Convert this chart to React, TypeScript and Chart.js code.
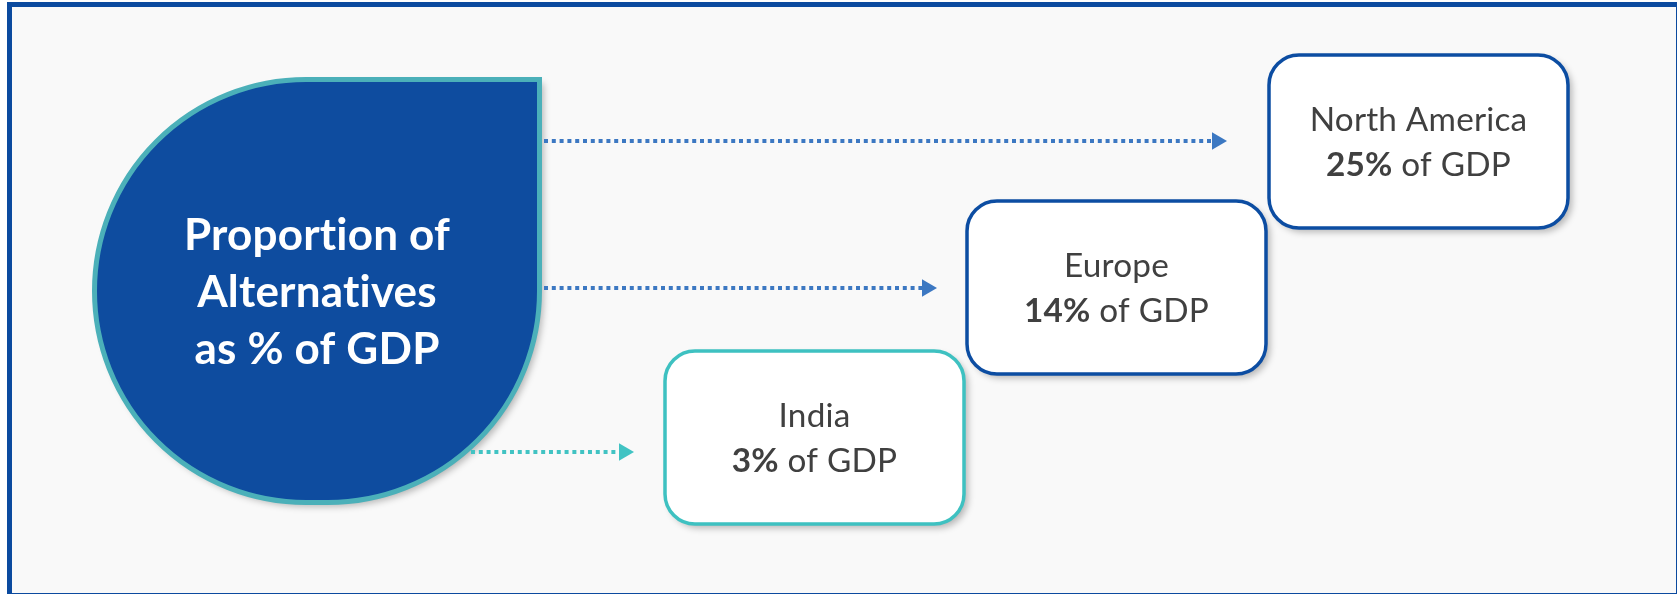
import React, { useEffect, useRef } from "react";
import { Chart, registerables } from "chart.js";

Chart.register(...registerables);

// ---------- data ----------
const regions = ["North America", "Europe", "India"];
const sharesOfGDP = [25, 14, 3];
const headlineLines = ["Proportion of", "Alternatives", "as % of GDP"];
const shareSuffix = " of GDP";

// ---------- layout (canvas units) ----------
const W = 1677;
const H = 594;
const boxLeft = [1267, 965, 663];
const boxTop = [53, 199, 349];
const boxW = 303;
const boxH = 177;
const boxRadius = 30;
const boxBorder = ["#0C4DA2", "#0C4DA2", "#3EC1C1"];
const arrowY = [141, 288, 452];
const arrowTip = [1227, 937, 634];
const arrowColor = ["#3C78C2", "#3C78C2", "#41C3C3"];
const arrowHead = 10;
const drop = { x: 92, y: 77, w: 450, h: 428, r: 214 };
const FONT = "Lato, 'Open Sans', sans-serif";

function arrowStart(yv: number) {
  const cy = drop.y + drop.h - drop.r;
  const cx = drop.x + drop.w - drop.r;
  if (yv <= cy) return drop.x + drop.w + 2;
  const dy = yv - cy;
  return cx + Math.sqrt(Math.max(0, drop.r * drop.r - dy * dy)) + 2;
}

function noLigatures(ctx: any) {
  try { ctx.letterSpacing = "0.2px"; } catch (e) {}
  try { ctx.textRendering = "optimizeSpeed"; } catch (e) {}
}

const infographic = {
  id: "infographic",
  beforeDatasetsDraw(chart: any) {
    const { ctx, scales } = chart;
    const px = (v: number) => scales.x.getPixelForValue(v);
    const py = (v: number) => scales.y.getPixelForValue(v);
    ctx.save();
    // page + panel
    ctx.fillStyle = "#ffffff";
    ctx.fillRect(0, 0, W, H);
    ctx.fillStyle = "#F9F9F9";
    ctx.fillRect(px(9), py(4), px(W) - px(9), py(H) - py(4));
    ctx.strokeStyle = "#0B4A9F";
    ctx.lineWidth = 5;
    ctx.strokeRect(px(9.5), py(4.5), px(1678.5) - px(9.5), py(595.5) - py(4.5));

    // drop shape
    const ins = 2.5;
    const dx = px(drop.x + ins), dyy = py(drop.y + ins);
    const dw = px(drop.x + drop.w - ins) - dx, dh = py(drop.y + drop.h - ins) - dyy;
    const rr = drop.r - ins;
    ctx.beginPath();
    ctx.roundRect(dx, dyy, dw, dh, [rr, 0, rr, rr]);
    ctx.shadowColor = "rgba(0,0,0,0.28)";
    ctx.shadowBlur = 7;
    ctx.shadowOffsetX = 4;
    ctx.shadowOffsetY = 4;
    ctx.fillStyle = "#0E4C9F";
    ctx.fill();
    ctx.shadowColor = "transparent";
    ctx.lineWidth = 5;
    ctx.strokeStyle = "#4BB0B9";
    ctx.stroke();

    // boxes
    regions.forEach((_, i) => {
      const x0 = px(boxLeft[i] + 2), y0 = py(boxTop[i] + 2);
      const w = px(boxLeft[i] + boxW - 2) - x0, h = py(boxTop[i] + boxH - 2) - y0;
      ctx.beginPath();
      ctx.roundRect(x0, y0, w, h, boxRadius);
      ctx.shadowColor = "rgba(0,0,0,0.28)";
      ctx.shadowBlur = 7;
      ctx.shadowOffsetX = 4;
      ctx.shadowOffsetY = 4;
      ctx.fillStyle = "#ffffff";
      ctx.fill();
      ctx.shadowColor = "transparent";
      ctx.lineWidth = 3.5;
      ctx.strokeStyle = boxBorder[i];
      ctx.stroke();
    });
    ctx.restore();
  },
  afterDatasetsDraw(chart: any) {
    const { ctx, scales } = chart;
    const px = (v: number) => scales.x.getPixelForValue(v);
    const py = (v: number) => scales.y.getPixelForValue(v);
    ctx.save();
    noLigatures(ctx);
    ctx.textBaseline = "alphabetic";

    // headline in the drop, sized to fit
    ctx.font = `bold 40px ${FONT}`;
    const hw = ctx.measureText(headlineLines[1]).width;
    const hSize = (40 * 240) / hw;
    ctx.font = `bold ${hSize}px ${FONT}`;
    ctx.fillStyle = "#ffffff";
    ctx.textAlign = "center";
    const hcx = px(drop.x + drop.w / 2);
    headlineLines.forEach((line, i) => {
      ctx.fillText(line, hcx, py(250 + i * 57));
    });

    // box texts
    ctx.font = `30px ${FONT}`;
    const nw = ctx.measureText(regions[0]).width;
    const bSize = (30 * 218) / nw;
    regions.forEach((name, i) => {
      const cx = px(boxLeft[i] + boxW / 2);
      ctx.fillStyle = "#404040";
      ctx.textAlign = "center";
      ctx.font = `${bSize}px ${FONT}`;
      ctx.fillText(name, cx, py(boxTop[i] + 78));
      const bold = `${sharesOfGDP[i]}%`;
      ctx.font = `bold ${bSize}px ${FONT}`;
      const w1 = ctx.measureText(bold).width;
      ctx.font = `${bSize}px ${FONT}`;
      const w2 = ctx.measureText(shareSuffix).width;
      const start = cx - (w1 + w2) / 2;
      ctx.textAlign = "left";
      ctx.font = `bold ${bSize}px ${FONT}`;
      ctx.fillText(bold, start, py(boxTop[i] + 123));
      ctx.font = `${bSize}px ${FONT}`;
      ctx.fillText(shareSuffix, start + w1, py(boxTop[i] + 123));
    });
    ctx.restore();
  },
};

export default function App() {
  const ref = useRef<HTMLCanvasElement | null>(null);
  useEffect(() => {
    document.body.style.margin = "0";
    const canvas = ref.current;
    if (!canvas) return;
    const datasets = regions.map((name, i) => ({
      type: "line" as const,
      label: name,
      data: [
        { x: arrowStart(arrowY[i]), y: arrowY[i] },
        { x: arrowTip[i] - arrowHead, y: arrowY[i] },
      ],
      borderColor: arrowColor[i],
      borderWidth: 4,
      borderDash: [4, 3.8],
      borderCapStyle: "butt",
      pointRadius: [0, arrowHead],
      pointStyle: "triangle",
      rotation: 90,
      pointBackgroundColor: arrowColor[i],
      pointBorderColor: arrowColor[i],
      pointBorderWidth: 0,
      fill: false,
      tension: 0,
    }));
    const chart = new Chart(canvas, {
      type: "scatter",
      data: { datasets },
      options: {
        animation: false,
        responsive: false,
        devicePixelRatio: 1,
        events: [],
        layout: { padding: 0, autoPadding: false },
        scales: {
          x: { type: "linear", min: 0, max: W, display: false },
          y: { type: "linear", min: 0, max: H, reverse: true, display: false },
        },
        plugins: { legend: { display: false }, tooltip: { enabled: false }, title: { display: false } },
      },
      plugins: [infographic],
    } as any);
    let alive = true;
    if ((document as any).fonts) {
      Promise.all([
        document.fonts.load(`bold 40px Lato`),
        document.fonts.load(`30px Lato`),
      ]).then(() => {
        if (alive) chart.draw();
      });
    }
    return () => {
      alive = false;
      chart.destroy();
    };
  }, []);
  return (
    <div style={{ position: "fixed", left: 0, top: 0, width: W, height: H, overflow: "hidden" }}>
      <canvas ref={ref} width={W} height={H} style={{ display: "block", width: W, height: H }} />
    </div>
  );
}
